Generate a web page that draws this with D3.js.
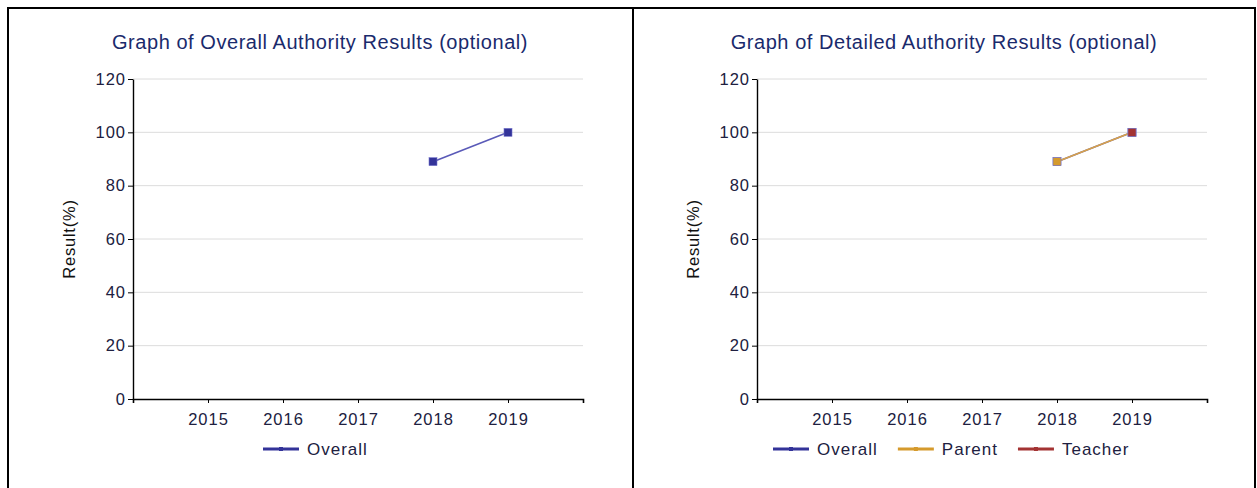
<!DOCTYPE html>
<html><head><meta charset="utf-8">
<script src="https://cdn.jsdelivr.net/npm/d3@7"></script>
<style>
html,body{margin:0;padding:0;background:#fff;}
svg{display:block;font-family:"Liberation Sans",Arial,sans-serif;}
</style></head>
<body><svg id="c" width="1257" height="488"></svg>
<script>
const years = [2015, 2016, 2017, 2018, 2019];
const yTicks = [0, 20, 40, 60, 80, 100, 120];
const overallValues = [null, null, null, 89, 100];
const parentValues = [null, null, null, 89, 100];
const teacherValues = [null, null, null, null, 100];
const seriesNames = ["Overall", "Parent", "Teacher"];
const seriesColors = ["#333399", "#d59a2c", "#a33333"];
const lineColors = ["#5a5ab8", "#d8a24a", "#a33333"];
const titles = ["Graph of Overall Authority Results (optional)", "Graph of Detailed Authority Results (optional)"];

const svg = d3.select("#c");
const FONT = "Liberation Sans, Arial, sans-serif";

// frame
svg.append("rect").attr("x", 8).attr("y", 8).attr("width", 1247).attr("height", 500)
  .attr("fill", "none").attr("stroke", "#000").attr("stroke-width", 2);
svg.append("line").attr("x1", 633).attr("x2", 633).attr("y1", 8).attr("y2", 488)
  .attr("stroke", "#000").attr("stroke-width", 2);

function drawChart(ox, title, series, legendX) {
  const g = svg.append("g");
  const left = ox, right = ox + 450, top = 79, bottom = 399;
  const x = d3.scaleLinear().domain([2014, 2020]).range([left, right]);
  const y = d3.scaleLinear().domain([0, 120]).range([bottom, top]);

  g.append("text").attr("x", left + 187).attr("y", 49).attr("text-anchor", "middle")
    .attr("font-size", 20).attr("letter-spacing", 0.55).attr("fill", "#1a2a6c").text(title);

  // grid
  g.append("g").selectAll("line").data(yTicks.filter(d => d > 0)).join("line")
    .attr("x1", left).attr("x2", right).attr("y1", d => y(d)).attr("y2", d => y(d))
    .attr("stroke", "#dcdcdc").attr("stroke-width", 1);

  // y axis
  const ya = g.append("g").attr("transform", `translate(${left},0)`)
    .call(d3.axisLeft(y).tickValues(yTicks).tickSize(5).tickSizeOuter(0).tickPadding(2));
  ya.select(".domain").attr("stroke", "#000").attr("stroke-width", 1.4);
  ya.selectAll(".tick line").attr("stroke", "#000");
  ya.selectAll("text").attr("font-size", 16.5).attr("letter-spacing", 1).attr("fill", "#202040").attr("font-family", FONT);

  // x axis
  const xa = g.append("g").attr("transform", `translate(0,${bottom})`)
    .call(d3.axisBottom(x).tickValues(years).tickFormat(d3.format("d")).tickSize(4).tickSizeOuter(4).tickPadding(10));
  xa.select(".domain").attr("stroke", "#000").attr("stroke-width", 1.6);
  xa.selectAll(".tick line").attr("stroke", "#000");
  xa.selectAll("text").attr("font-size", 16.5).attr("letter-spacing", 1).attr("fill", "#202040").attr("font-family", FONT);

  g.append("text").attr("transform", `translate(${left - 58},${(top + bottom) / 2}) rotate(-90)`)
    .attr("text-anchor", "middle").attr("font-size", 16.5).attr("letter-spacing", 0.8)
    .attr("fill", "#111").text("Result(%)");

  const line = d3.line().defined(d => d.v != null).x(d => x(d.year)).y(d => y(d.v));
  series.forEach(s => {
    const pts = years.map((yr, i) => ({ year: yr, v: s.values[i] }));
    g.append("path").datum(pts).attr("d", line).attr("fill", "none")
      .attr("stroke", lineColors[s.idx]).attr("stroke-width", 1.6);
    g.append("g").selectAll("rect").data(pts.filter(p => p.v != null)).join("rect")
      .attr("x", p => x(p.year) - 4).attr("y", p => y(p.v) - 4).attr("width", 8).attr("height", 8)
      .attr("fill", seriesColors[s.idx]).attr("stroke", "#7777cc").attr("stroke-width", 0.6);
  });

  // legend
  let lx = legendX;
  series.forEach(s => {
    const lg = g.append("g");
    lg.append("line").attr("x1", lx).attr("x2", lx + 36).attr("y1", 449).attr("y2", 449)
      .attr("stroke", seriesColors[s.idx]).attr("stroke-width", 3);
    lg.append("rect").attr("x", lx + 16).attr("y", 447).attr("width", 4).attr("height", 4)
      .attr("fill", seriesColors[s.idx]);
    const t = lg.append("text").attr("x", lx + 44).attr("y", 455).attr("font-size", 17)
      .attr("letter-spacing", 1).attr("fill", "#202040").text(seriesNames[s.idx]);
    lx += 44 + t.node().getComputedTextLength() + 20;
  });
}

drawChart(133, titles[0], [{ idx: 0, values: overallValues }], 263);
drawChart(757, titles[1], [
  { idx: 0, values: overallValues },
  { idx: 1, values: parentValues },
  { idx: 2, values: teacherValues }
], 773);
</script></body></html>
